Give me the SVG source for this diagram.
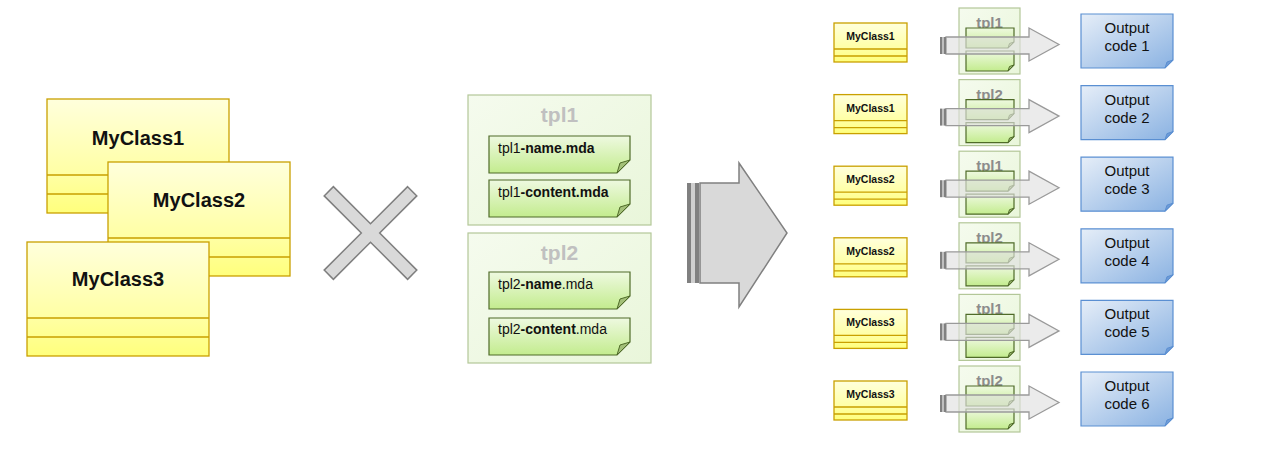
<svg xmlns="http://www.w3.org/2000/svg" width="1285" height="453" viewBox="0 0 1285 453">
<style>
.cls{stroke:#c9a000;stroke-width:1.3;fill:url(#gYellow)}
.sec{stroke:#c9a000;stroke-width:1.3;fill:none}
.pnl{fill:url(#gPanel);stroke:#b3c798;stroke-width:1.2}
.note{fill:url(#gNote);stroke:#4f6b28;stroke-width:1.2}
.fold{fill:#a3c078;stroke:#4f6b28;stroke-width:1}
.out{fill:url(#gBlue);stroke:#5a8fd2;stroke-width:1.2}
.ofold{fill:#6f9bd6;stroke:#5a8fd2;stroke-width:1}
.sarr{fill:#e0e0e0;fill-opacity:0.65;stroke:#9a9a9a;stroke-width:1.3}
.t{font-family:"Liberation Sans",Arial,sans-serif;fill:#111}
.b{font-weight:bold}
.big{font-size:20px;font-weight:bold;text-anchor:middle}
.nt{font-size:14px}
.tt{font-size:21px;font-weight:bold;fill:#c0c0c0;text-anchor:middle}
.stt{font-size:15px;font-weight:bold;fill:#8c8c8c;text-anchor:middle}
.sm{font-size:10.5px;font-weight:bold;text-anchor:middle}
.ot{font-size:15px;text-anchor:middle}
</style>
<defs>
<linearGradient id="gYellow" x1="0" y1="0" x2="0" y2="1">
<stop offset="0" stop-color="#ffffdc"/><stop offset="0.66" stop-color="#ffffa4"/><stop offset="1" stop-color="#ffff7c"/>
</linearGradient>
<linearGradient id="gPanel" x1="0" y1="0" x2="1" y2="1">
<stop offset="0" stop-color="#f5fbee"/><stop offset="1" stop-color="#e9f6da"/>
</linearGradient>
<linearGradient id="gNote" x1="0" y1="0" x2="0" y2="1">
<stop offset="0" stop-color="#eef9e0"/><stop offset="1" stop-color="#c3ec8e"/>
</linearGradient>
<linearGradient id="gBlue" x1="0" y1="0" x2="1" y2="1">
<stop offset="0" stop-color="#e6eef8"/><stop offset="1" stop-color="#8ab2e2"/>
</linearGradient>
<g id="bigClass">
<rect class="cls" x="0" y="0" width="182" height="114"/>
<path class="sec" d="M0,76H182M0,95H182"/>
</g>
<g id="smallClass">
<rect class="cls" x="0" y="0" width="73" height="39"/>
<path class="sec" d="M0,26H73M0,33H73"/>
</g>
<g id="bigNote">
<path class="note" d="M0,0H141V24L128,37H0Z"/>
<path class="fold" d="M141,24L128,37L131,27Z"/>
</g>
<g id="smallNote">
<path class="note" d="M0,0H48V14L42,20H0Z"/>
<path class="fold" d="M48,14L42,20L43.5,15.5Z"/>
</g>
<g id="outBox">
<path class="out" d="M0,0H92V46L84,54H0Z"/>
<path class="ofold" d="M92,46L84,54L86,48Z"/>
</g>
<g id="smallArrow">
<path class="sarr" d="M946,37H1029V28L1059,44.5L1029,61V54H946Z"/>
<rect x="940" y="37" width="2.5" height="17" fill="#808080"/>
<rect x="943.5" y="37" width="2.5" height="17" fill="#808080"/>
</g>
</defs>
<rect width="1285" height="453" fill="#ffffff"/>

<g id="class1"><use href="#bigClass" x="47" y="99"/><text class="t big" x="138" y="145">MyClass1</text></g>
<g id="class2"><use href="#bigClass" x="108" y="162"/><text class="t big" x="199" y="207">MyClass2</text></g>
<g id="class3"><use href="#bigClass" x="27" y="242"/><text class="t big" x="118" y="286">MyClass3</text></g>

<g id="cross">
<path d="M-6.5,-59H6.5V-6.5H59V6.5H6.5V59H-6.5V6.5H-59V-6.5H-6.5Z" transform="translate(370.5,233) rotate(45)" fill="#d9d9d9" stroke="#7f7f7f" stroke-width="1.5"/>
</g>

<g id="tpl1">
<rect class="pnl" x="468" y="95" width="183" height="130"/>
<text class="t tt" x="559.5" y="122">tpl1</text>
<use href="#bigNote" x="489" y="136"/>
<text class="t nt" x="498" y="153">tpl1<tspan class="b">-name.mda</tspan></text>
<use href="#bigNote" x="489" y="180"/>
<text class="t nt" x="498" y="197">tpl1<tspan class="b">-content.mda</tspan></text>
</g>
<g id="tpl2">
<rect class="pnl" x="468" y="233" width="183" height="130"/>
<text class="t tt" x="559.5" y="260">tpl2</text>
<use href="#bigNote" x="489" y="272"/>
<text class="t nt" x="498" y="289">tpl2<tspan class="b">-name</tspan>.mda</text>
<use href="#bigNote" x="489" y="318"/>
<text class="t nt" x="498" y="334">tpl2<tspan class="b">-content</tspan>.mda</text>
</g>

<g id="bigArrow">
<rect x="687" y="183" width="4" height="100" fill="#808080"/>
<rect x="691" y="183" width="4" height="100" fill="#cfcfcf"/>
<rect x="695" y="183" width="4" height="100" fill="#808080"/>
<path d="M700,183H739V163L787,233L739,307V283H700Z" fill="#d9d9d9" stroke="#808080" stroke-width="1.5"/>
</g>

<g id="row1-class"><use href="#smallClass" x="834" y="23"/><text class="t sm" x="870.5" y="40">MyClass1</text></g>
<g id="row1-tpl"><rect class="pnl" x="959" y="8" width="61" height="66"/><text class="t stt" x="989.5" y="28">tpl1</text><use href="#smallNote" x="966" y="28"/><use href="#smallNote" x="966" y="51"/></g>
<g id="row1-out"><use href="#outBox" x="1081" y="14"/><text class="t ot" x="1127" y="33">Output</text><text class="t ot" x="1127" y="51">code 1</text></g>

<g id="row2" transform="translate(0,71.6)">
<g id="row2-class"><use href="#smallClass" x="834" y="23"/><text class="t sm" x="870.5" y="40">MyClass1</text></g>
<g id="row2-tpl"><rect class="pnl" x="959" y="8" width="61" height="66"/><text class="t stt" x="989.5" y="28">tpl2</text><use href="#smallNote" x="966" y="28"/><use href="#smallNote" x="966" y="51"/></g>
<g id="row2-out"><use href="#outBox" x="1081" y="14"/><text class="t ot" x="1127" y="33">Output</text><text class="t ot" x="1127" y="51">code 2</text></g>
</g>
<g id="row3" transform="translate(0,143.2)">
<g id="row3-class"><use href="#smallClass" x="834" y="23"/><text class="t sm" x="870.5" y="40">MyClass2</text></g>
<g id="row3-tpl"><rect class="pnl" x="959" y="8" width="61" height="66"/><text class="t stt" x="989.5" y="28">tpl1</text><use href="#smallNote" x="966" y="28"/><use href="#smallNote" x="966" y="51"/></g>
<g id="row3-out"><use href="#outBox" x="1081" y="14"/><text class="t ot" x="1127" y="33">Output</text><text class="t ot" x="1127" y="51">code 3</text></g>
</g>
<g id="row4" transform="translate(0,214.8)">
<g id="row4-class"><use href="#smallClass" x="834" y="23"/><text class="t sm" x="870.5" y="40">MyClass2</text></g>
<g id="row4-tpl"><rect class="pnl" x="959" y="8" width="61" height="66"/><text class="t stt" x="989.5" y="28">tpl2</text><use href="#smallNote" x="966" y="28"/><use href="#smallNote" x="966" y="51"/></g>
<g id="row4-out"><use href="#outBox" x="1081" y="14"/><text class="t ot" x="1127" y="33">Output</text><text class="t ot" x="1127" y="51">code 4</text></g>
</g>
<g id="row5" transform="translate(0,286.4)">
<g id="row5-class"><use href="#smallClass" x="834" y="23"/><text class="t sm" x="870.5" y="40">MyClass3</text></g>
<g id="row5-tpl"><rect class="pnl" x="959" y="8" width="61" height="66"/><text class="t stt" x="989.5" y="28">tpl1</text><use href="#smallNote" x="966" y="28"/><use href="#smallNote" x="966" y="51"/></g>
<g id="row5-out"><use href="#outBox" x="1081" y="14"/><text class="t ot" x="1127" y="33">Output</text><text class="t ot" x="1127" y="51">code 5</text></g>
</g>
<g id="row6" transform="translate(0,358)">
<g id="row6-class"><use href="#smallClass" x="834" y="23"/><text class="t sm" x="870.5" y="40">MyClass3</text></g>
<g id="row6-tpl"><rect class="pnl" x="959" y="8" width="61" height="66"/><text class="t stt" x="989.5" y="28">tpl2</text><use href="#smallNote" x="966" y="28"/><use href="#smallNote" x="966" y="51"/></g>
<g id="row6-out"><use href="#outBox" x="1081" y="14"/><text class="t ot" x="1127" y="33">Output</text><text class="t ot" x="1127" y="51">code 6</text></g>
</g>

<g id="connectors">
<use href="#smallArrow"/>
<use href="#smallArrow" y="71.6"/>
<use href="#smallArrow" y="143.2"/>
<use href="#smallArrow" y="214.8"/>
<use href="#smallArrow" y="286.4"/>
<use href="#smallArrow" y="358"/>
</g>
</svg>
